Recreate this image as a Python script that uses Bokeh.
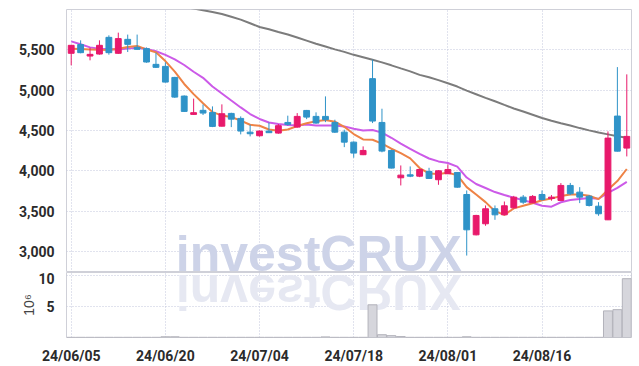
import math
from bokeh.plotting import figure
from bokeh.layouts import column
from bokeh.models import (ColumnDataSource, FixedTicker, NumeralTickFormatter,
                          Range1d, Label)
from bokeh.embed import file_html
from bokeh.resources import INLINE

# ---------------- data ----------------
dates = ["2024-06-05", "2024-06-07", "2024-06-10", "2024-06-11", "2024-06-12", "2024-06-13",
         "2024-06-14", "2024-06-17", "2024-06-18", "2024-06-19", "2024-06-20", "2024-06-21",
         "2024-06-24", "2024-06-25", "2024-06-26", "2024-06-27", "2024-06-28", "2024-07-01",
         "2024-07-02", "2024-07-03", "2024-07-04", "2024-07-05", "2024-07-08", "2024-07-09",
         "2024-07-10", "2024-07-11", "2024-07-12", "2024-07-15", "2024-07-16", "2024-07-17",
         "2024-07-18", "2024-07-19", "2024-07-22", "2024-07-23", "2024-07-24", "2024-07-25",
         "2024-07-26", "2024-07-29", "2024-07-30", "2024-07-31", "2024-08-01", "2024-08-02",
         "2024-08-05", "2024-08-06", "2024-08-07", "2024-08-08", "2024-08-09", "2024-08-12",
         "2024-08-13", "2024-08-14", "2024-08-16", "2024-08-19", "2024-08-20", "2024-08-21",
         "2024-08-22", "2024-08-23", "2024-08-26", "2024-08-27", "2024-08-28", "2024-08-29"]

opens = [5457, 5565, 5423, 5448, 5655, 5457, 5630, 5531, 5515, 5320,
         5295, 5158, 4927, 4700, 4750, 4724, 4554, 4712, 4650, 4480,
         4435, 4493, 4468, 4600, 4542, 4749, 4675, 4675, 4600, 4480,
         4356, 4200, 5143, 4600, 4253, 3914, 3951, 3934, 3993, 3890,
         3964, 3980, 3707, 3207, 3344, 3530, 3455, 3542, 3674, 3604,
         3707, 3658, 3633, 3819, 3736, 3686, 3562, 3393, 4679, 4282]
highs = [5560, 5618, 5527, 5618, 5680, 5713, 5689, 5689, 5530, 5465,
         5345, 5165, 4935, 4895, 4822, 4799, 4824, 4720, 4675, 4572,
         4500, 4600, 4580, 4684, 4716, 4755, 4725, 4923, 4634, 4510,
         4365, 4303, 5378, 4770, 4260, 4067, 4055, 4025, 4038, 4010,
         4079, 3985, 3757, 3455, 3571, 3571, 3620, 3690, 3700, 3700,
         3757, 3700, 3848, 3850, 3798, 3700, 3612, 4489, 5286, 5196]
lows = [5308, 5457, 5370, 5440, 5440, 5450, 5473, 5500, 5340, 5275,
        5095, 4905, 4730, 4695, 4692, 4542, 4550, 4542, 4452, 4427,
        4425, 4470, 4460, 4560, 4535, 4641, 4584, 4604, 4470, 4294,
        4163, 4195, 4592, 4230, 4030, 3819, 3922, 3922, 3900, 3827,
        3960, 3790, 2950, 3200, 3319, 3393, 3450, 3535, 3590, 3600,
        3630, 3630, 3630, 3700, 3600, 3558, 3443, 3390, 4240, 4179]
closes = [5556, 5465, 5444, 5556, 5465, 5639, 5568, 5506, 5349, 5283,
          5100, 4914, 4737, 4721, 4716, 4551, 4708, 4641, 4493, 4460,
          4493, 4473, 4560, 4576, 4675, 4666, 4592, 4634, 4480, 4356,
          4220, 4253, 4617, 4245, 4034, 3947, 3934, 4017, 3906, 4001,
          4017, 3798, 3269, 3447, 3530, 3455, 3567, 3674, 3612, 3683,
          3645, 3674, 3819, 3716, 3674, 3571, 3468, 4406, 4244, 4427]

ma5 = [5515, 5510, 5505, 5500, 5497, 5514, 5534, 5547, 5505, 5469,
       5361, 5230, 5077, 4951, 4838, 4728, 4687, 4667, 4622, 4571,
       4559, 4512, 4496, 4512, 4555, 4590, 4614, 4629, 4609, 4546,
       4456, 4389, 4385, 4338, 4274, 4219, 4155, 4035, 3968, 3961,
       3975, 3948, 3798, 3706, 3612, 3500, 3454, 3535, 3568, 3598,
       3636, 3658, 3687, 3707, 3706, 3691, 3650, 3767, 3873, 4023]
ma10 = [5605, 5570, 5530, 5515, 5510, 5505, 5515, 5525, 5510, 5483,
        5438, 5382, 5312, 5228, 5153, 5045, 4959, 4872, 4786, 4704,
        4643, 4599, 4582, 4567, 4563, 4575, 4563, 4562, 4561, 4551,
        4523, 4501, 4507, 4474, 4410, 4338, 4272, 4210, 4153, 4117,
        4097, 4052, 3917, 3837, 3787, 3737, 3701, 3666, 3637, 3605,
        3568, 3556, 3611, 3638, 3652, 3664, 3654, 3727, 3790, 3864]
ma_long = [6330, 6310, 6285, 6260, 6235, 6210, 6185, 6160, 6135, 6110,
           6085, 6060, 6035, 6011, 5990, 5969, 5945, 5910, 5875, 5830,
           5783, 5755, 5722, 5690, 5652, 5614, 5576, 5541, 5506, 5475,
           5438, 5407, 5376, 5345, 5308, 5270, 5233, 5190, 5160, 5125,
           5085, 5045, 4995, 4950, 4905, 4862, 4817, 4773, 4735, 4695,
           4655, 4620, 4590, 4562, 4530, 4502, 4475, 4452, 4428, 4411]
# volume in millions of shares
volume_m = [0.03, 0.03, 0.03, 0.03, 0.03, 0.03, 0.03, 0.03, 0.03, 0.03,
            0.12, 0.12, 0.03, 0.03, 0.03, 0.03, 0.03, 0.03, 0.03, 0.03,
            0.03, 0.03, 0.03, 0.03, 0.03, 0.03, 0.03, 0.10, 0.03, 0.03,
            0.03, 0.03, 5.28, 0.45, 0.30, 0.15, 0.03, 0.03, 0.03, 0.03,
            0.03, 0.03, 0.12, 0.03, 0.03, 0.03, 0.03, 0.03, 0.03, 0.03,
            0.03, 0.03, 0.03, 0.03, 0.03, 0.03, 0.03, 4.30, 4.50, 9.50]

price_ticks = [3000, 3500, 4000, 4500, 5000, 5500]
volume_ticks = [5, 10]
date_tick_idx = [0, 10, 20, 30, 40, 50]
date_tick_labels = {i: dates[i][2:].replace("-", "/") for i in date_tick_idx}

# ---------------- styles ----------------
UP = "#e8196b"
DOWN = "#2f93c8"
GRID = "#c3c7dc"
OUTLINE = "#cfd0d8"
TICK_FONT = "Roboto"
TICK_SIZE = "14px"
TXT = "#2b2b2b"

idx = list(range(len(dates)))
src = ColumnDataSource(dict(
    x=idx, o=opens, h=highs, l=lows, c=closes,
    top=[max(a, b) for a, b in zip(opens, closes)],
    bot=[min(a, b) for a, b in zip(opens, closes)],
    color=[UP if c >= o else DOWN for o, c in zip(opens, closes)],
    ma5=ma5, ma10=ma10, mal=ma_long, vol=volume_m,
))

xr = Range1d(-0.5, len(dates) - 0.5)

p = figure(width=632, height=272, x_range=xr, y_range=Range1d(2740, 6000),
           output_backend="svg", toolbar_location=None, x_axis_location=None,
           min_border_left=66, min_border_right=1, min_border_top=9, min_border_bottom=0)
p.outline_line_color = OUTLINE
p.background_fill_color = "white"
p.border_fill_color = "white"

p.xgrid.ticker = FixedTicker(ticks=date_tick_idx)
p.ygrid.ticker = FixedTicker(ticks=price_ticks)
for g in (p.xgrid, p.ygrid):
    g.grid_line_color = GRID
    g.grid_line_dash = "1 2"
    g.grid_line_width = 1

ya = p.yaxis[0]
ya.ticker = FixedTicker(ticks=price_ticks)
ya.formatter = NumeralTickFormatter(format="0,0")
ya.axis_line_color = None
ya.major_tick_line_color = None
ya.minor_tick_line_color = None
ya.major_label_standoff = 6
ya.major_label_text_font = TICK_FONT
ya.major_label_text_font_style = "bold"
ya.major_label_text_font_size = TICK_SIZE
ya.major_label_text_color = TXT

# watermark
p.add_layout(Label(x=26.3, y=2966, text="investCRUX", text_font="Liberation Sans",
                   text_font_style="bold", text_font_size="50px", text_color="#cdd3e8",
                   text_align="center", text_baseline="middle", level="underlay"))

# moving averages
p.line("x", "mal", source=src, line_color="#7c7c7c", line_width=2)
p.line("x", "ma10", source=src, line_color="#cc5ae8", line_width=2)
p.line("x", "ma5", source=src, line_color="#ee8346", line_width=2)

# candles
p.segment("x", "h", "x", "l", source=src, line_color="color", line_width=1)
p.vbar(x="x", top="top", bottom="bot", width=0.62, source=src,
       fill_color="color", line_color="color", line_width=1)

# ---------------- volume panel ----------------
q = figure(width=632, height=94, x_range=xr, y_range=Range1d(0, 10.5),
           output_backend="svg", toolbar_location=None,
           min_border_left=66, min_border_right=1, min_border_top=0, min_border_bottom=0)
q.outline_line_color = OUTLINE
q.xgrid.ticker = FixedTicker(ticks=date_tick_idx)
q.ygrid.ticker = FixedTicker(ticks=volume_ticks)
for g in (q.xgrid, q.ygrid):
    g.grid_line_color = GRID
    g.grid_line_dash = "1 2"
    g.grid_line_width = 1

qy = q.yaxis[0]
qy.ticker = FixedTicker(ticks=volume_ticks)
qy.axis_line_color = None
qy.major_tick_line_color = None
qy.minor_tick_line_color = None
qy.major_label_standoff = 6
qy.major_label_text_font = TICK_FONT
qy.major_label_text_font_style = "bold"
qy.major_label_text_font_size = TICK_SIZE
qy.major_label_text_color = TXT
qy.axis_label = "10\u2076"
qy.axis_label_text_font = "Liberation Sans"
qy.axis_label_text_font_style = "normal"
qy.axis_label_text_font_size = "14px"
qy.axis_label_text_color = "#444444"
qy.axis_label_standoff = -2

qx = q.xaxis[0]
qx.ticker = FixedTicker(ticks=date_tick_idx)
qx.major_label_overrides = date_tick_labels
qx.axis_line_color = None
qx.major_tick_line_color = None
qx.minor_tick_line_color = None
qx.major_label_standoff = 4
qx.major_label_text_font = TICK_FONT
qx.major_label_text_font_style = "bold"
qx.major_label_text_font_size = TICK_SIZE
qx.major_label_text_color = TXT

# mirrored watermark reflection
q.add_layout(Label(x=26.3, y=7.27, text="XU\u042f\u0186t\u01a8\u0258vni", angle=math.pi,
                   text_font="Liberation Sans", text_font_style="bold", text_font_size="50px",
                   text_color="#e6e8f2", text_align="center", text_baseline="middle",
                   level="underlay"))

q.vbar(x="x", top="vol", bottom=0, width=0.95, source=src,
       fill_color="#d6d6dc", line_color="#b3b3bb", line_width=1)

layout = column(p, q, spacing=0)
open("out.html", "w").write(file_html(layout, INLINE))
